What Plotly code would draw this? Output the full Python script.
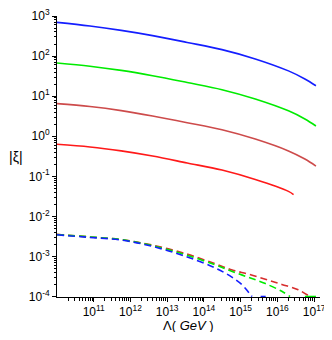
import plotly.graph_objects as go

# ---- data ----
lam_solid = [1e10, 7.9e10, 5.6e11, 4e12, 3.5e13, 3.1e14, 2.5e15, 2e16, 5.6e16, 1.12e17]
xi_blue = [692, 562, 437, 324, 219, 145, 85, 42.7, 26.9, 18.2]
xi_green = [67, 56, 44, 32.4, 21.9, 14.5, 8.5, 4.3, 2.7, 1.8]
xi_brown = [6.5, 5.5, 4.35, 3.2, 2.18, 1.45, 0.85, 0.43, 0.27, 0.18]
lam_red = [1e10, 7.9e10, 5.6e11, 4e12, 3.5e13, 3.1e14, 2.5e15, 2e16, 2.75e16]
xi_red = [0.63, 0.54, 0.43, 0.32, 0.215, 0.143, 0.083, 0.042, 0.035]

lam_d_blue = [1e10, 7.1e10, 5.6e11, 4e12, 3.2e13, 2e14, 5.9e14, 1.1e15, 1.66e15, 2.04e15]
xi_d_blue = [3.47e-3, 3.0e-3, 2.57e-3, 1.78e-3, 1.0e-3, 5.2e-4, 3.0e-4, 1.95e-4, 1.26e-4, 1.0e-4]
lam_d_blue_tail = [3.5e15, 4.8e15]
xi_d_blue_tail = [1.0e-4, 1.0e-4]

lam_d_green = [1e10, 7.1e10, 5.6e11, 4e12, 3.2e13, 2e14, 5.9e14, 1.66e15, 4.7e15, 1.32e16, 2.2e16]
xi_d_green = [3.5e-3, 3.09e-3, 2.63e-3, 1.86e-3, 1.1e-3, 6.2e-4, 4.2e-4, 3.0e-4, 2.1e-4, 1.35e-4, 1.0e-4]
lam_d_green_tail = [5.6e16, 1.12e17]
xi_d_green_tail = [1.0e-4, 1.0e-4]

lam_d_red = [1e10, 7.1e10, 5.6e11, 4e12, 3.2e13, 2e14, 5.9e14, 1.66e15, 4.7e15, 1.32e16, 3.7e16, 7.6e16]
xi_d_red = [3.55e-3, 3.09e-3, 2.63e-3, 1.91e-3, 1.17e-3, 6.6e-4, 4.6e-4, 3.6e-4, 2.7e-4, 2.0e-4, 1.48e-4, 1.0e-4]

x_tick_exp = [11, 12, 13, 14, 15, 16, 17]
y_tick_exp = [-4, -3, -2, -1, 0, 1, 2, 3]

# ---- styles ----
C_BLUE = "rgb(20,30,255)"
C_GREEN = "rgb(0,235,0)"
C_BROWN = "rgb(205,75,75)"
C_RED = "rgb(255,25,25)"
C_DRED = "rgb(215,45,45)"

fig = go.Figure()

def add(x, y, color, dash="solid", width=1.6):
    fig.add_trace(go.Scatter(x=x, y=y, mode="lines",
                             line=dict(color=color, width=width, dash=dash, shape="spline"),
                             showlegend=False, hoverinfo="skip"))

add(lam_solid, xi_blue, C_BLUE)
add(lam_solid, xi_green, C_GREEN)
add(lam_solid, xi_brown, C_BROWN)
add(lam_red, xi_red, C_RED)

DASH = "7px,4px"
add(lam_d_red, xi_d_red, C_DRED, DASH)
add(lam_d_green, xi_d_green, C_GREEN, DASH)
add(lam_d_green_tail, xi_d_green_tail, C_GREEN, "solid")
add(lam_d_blue, xi_d_blue, C_BLUE, DASH)
add(lam_d_blue_tail, xi_d_blue_tail, C_BLUE, "solid")

x_minor = [m * 10 ** k for k in range(10, 17) for m in range(2, 10)]
y_minor = [m * 10 ** k for k in range(-4, 3) for m in range(2, 10)]

axis_font = dict(family="Liberation Sans, Arial, sans-serif", size=12, color="black")

fig.update_xaxes(
    type="log", range=[10, 17.16], automargin=False, ticklabeloverflow="allow",
    tickmode="array", tickvals=[10 ** e for e in x_tick_exp],
    ticktext=[f"10<sup>{e}</sup>" for e in x_tick_exp],
    ticks="outside", ticklen=4, tickwidth=1, tickcolor="black",
    minor=dict(tickmode="array", tickvals=x_minor, ticks="outside", ticklen=2.5,
               tickcolor="black", showgrid=False),
    showline=True, linecolor="black", linewidth=1,
    showgrid=False, zeroline=False, tickfont=axis_font,
)
fig.update_yaxes(
    type="log", range=[-4.012, 3], automargin=False, ticklabeloverflow="allow",
    tickmode="array", tickvals=[10 ** e for e in y_tick_exp],
    ticktext=[f"10<sup>{e}</sup>" for e in y_tick_exp],
    ticks="outside", ticklen=4, tickwidth=1, tickcolor="black",
    minor=dict(tickmode="array", tickvals=y_minor, ticks="outside", ticklen=2.5,
               tickcolor="black", showgrid=False),
    showline=True, linecolor="black", linewidth=1,
    showgrid=False, zeroline=False, tickfont=axis_font,
)

fig.update_layout(
    width=316, height=324,
    margin=dict(l=49, r=4, t=8, b=35),
    paper_bgcolor="white", plot_bgcolor="white",
    font=dict(family="Liberation Sans, Arial, sans-serif", color="black"),
    annotations=[
        dict(text="Λ( <i>GeV</i> )", xref="paper", yref="paper", x=0.5, y=-0.1,
             xanchor="center", yanchor="middle", showarrow=False,
             font=dict(size=13, family="Liberation Sans, Arial, sans-serif")),
        dict(text="|ξ|", xref="paper", yref="paper", x=-0.155, y=0.5,
             xanchor="center", yanchor="middle", showarrow=False,
             font=dict(size=14, family="Liberation Sans, Arial, sans-serif")),
    ],
)

fig.write_html("out.html")
